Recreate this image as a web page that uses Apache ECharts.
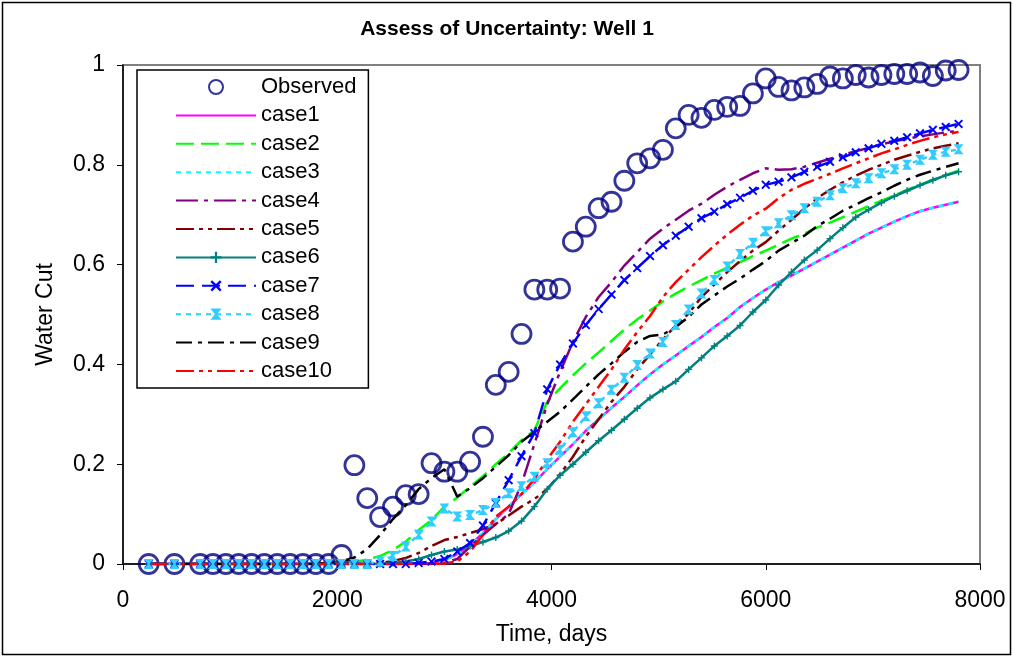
<!DOCTYPE html>
<html>
<head>
<meta charset="utf-8">
<script src="https://cdn.jsdelivr.net/npm/echarts@6/dist/echarts.min.js"></script>
<style>
html,body{margin:0;padding:0;background:#fff;}
#chart{width:1014px;height:658px;}
</style>
</head>
<body>
<div id="chart"></div>
<script>
var days = [240,480,720,840,960,1080,1200,1320,1440,1560,1680,1800,1920,2040,2160,2280,2400,2520,2640,2760,2880,3000,3120,3240,3360,3480,3600,3720,3840,3960,4080,4200,4320,4440,4560,4680,4800,4920,5040,5160,5280,5400,5520,5640,5760,5880,6000,6120,6240,6360,6480,6600,6720,6840,6960,7080,7200,7320,7440,7560,7680,7800];

var observed = [0,0,0,0,0,0,0,0,0,0,0,0,0,0.018,0.198,0.132,0.094,0.115,0.138,0.14,0.202,0.185,0.185,0.205,0.255,0.359,0.385,0.461,0.55,0.55,0.552,0.646,0.676,0.713,0.726,0.768,0.803,0.813,0.83,0.873,0.9,0.894,0.91,0.916,0.918,0.943,0.973,0.956,0.949,0.955,0.962,0.977,0.973,0.98,0.975,0.98,0.982,0.982,0.985,0.978,0.989,0.99];

var case1 = [0,0,0,0,0,0,0,0,0,0,0,0,0,0,0,0,0,0,0,0,0.002,0.008,0.02,0.038,0.062,0.09,0.115,0.14,0.163,0.19,0.215,0.24,0.267,0.29,0.313,0.335,0.358,0.38,0.4,0.418,0.437,0.455,0.475,0.493,0.515,0.533,0.55,0.565,0.578,0.592,0.606,0.62,0.634,0.648,0.662,0.674,0.686,0.697,0.707,0.714,0.72,0.726];

var case2 = [0,0,0,0,0,0,0,0,0,0,0,0,0,0.001,0.004,0.009,0.016,0.028,0.045,0.068,0.088,0.115,0.133,0.155,0.176,0.2,0.222,0.248,0.268,0.325,0.352,0.378,0.402,0.424,0.447,0.47,0.49,0.508,0.526,0.542,0.556,0.569,0.582,0.594,0.605,0.617,0.628,0.64,0.652,0.662,0.674,0.684,0.695,0.706,0.717,0.728,0.738,0.75,0.76,0.77,0.779,0.788];

var case3 = [0,0,0,0,0,0,0,0,0,0,0,0,0,0,0,0,0,0,0,0,0.002,0.008,0.02,0.038,0.062,0.09,0.115,0.14,0.163,0.19,0.215,0.24,0.267,0.29,0.313,0.335,0.358,0.38,0.4,0.418,0.437,0.455,0.475,0.493,0.515,0.533,0.55,0.565,0.578,0.592,0.606,0.62,0.634,0.648,0.662,0.674,0.686,0.697,0.707,0.714,0.72,0.726];

var case4 = [0,0,0,0,0,0,0,0,0,0,0,0,0,0,0,0,0,0,0,0,0,0.002,0.01,0.035,0.058,0.08,0.1,0.16,0.24,0.32,0.385,0.445,0.495,0.535,0.565,0.598,0.625,0.652,0.672,0.69,0.708,0.722,0.74,0.756,0.77,0.783,0.793,0.79,0.791,0.796,0.804,0.812,0.82,0.827,0.834,0.841,0.847,0.852,0.857,0.861,0.865,0.868];

var case5 = [0,0,0,0,0,0,0,0,0,0,0,0,0,0,0,0,0.002,0.006,0.012,0.022,0.036,0.048,0.054,0.062,0.07,0.08,0.097,0.115,0.13,0.15,0.18,0.215,0.255,0.29,0.325,0.355,0.39,0.42,0.45,0.478,0.502,0.535,0.56,0.585,0.607,0.628,0.645,0.668,0.69,0.712,0.733,0.75,0.765,0.778,0.79,0.8,0.81,0.818,0.826,0.833,0.838,0.843];

var case6 = [0,0,0,0,0,0,0,0,0,0,0,0,0,0,0,0,0,0.002,0.005,0.01,0.018,0.025,0.029,0.036,0.044,0.053,0.066,0.086,0.115,0.15,0.178,0.2,0.224,0.247,0.268,0.29,0.312,0.333,0.35,0.366,0.39,0.413,0.437,0.457,0.478,0.505,0.529,0.559,0.585,0.609,0.629,0.652,0.674,0.695,0.71,0.724,0.737,0.748,0.759,0.769,0.779,0.786];

var case7 = [0,0,0,0,0,0,0,0,0,0,0,0,0,0,0,0,0,0,0,0.002,0.005,0.01,0.025,0.042,0.077,0.122,0.168,0.216,0.262,0.35,0.4,0.442,0.479,0.511,0.54,0.569,0.593,0.617,0.639,0.658,0.676,0.693,0.706,0.721,0.734,0.748,0.76,0.766,0.775,0.786,0.796,0.806,0.815,0.825,0.833,0.842,0.848,0.855,0.863,0.87,0.876,0.882];

var case8 = [0,0,0,0,0,0,0,0,0,0,0,0,0,0,0,0,0.005,0.016,0.035,0.059,0.085,0.111,0.095,0.098,0.108,0.122,0.142,0.156,0.175,0.202,0.229,0.264,0.296,0.322,0.349,0.373,0.399,0.422,0.445,0.479,0.51,0.542,0.569,0.596,0.621,0.644,0.667,0.683,0.699,0.713,0.726,0.739,0.753,0.763,0.773,0.783,0.791,0.8,0.81,0.82,0.826,0.831];

var case9 = [0,0,0,0,0,0,0,0,0,0,0,0,0.002,0.005,0.013,0.03,0.058,0.09,0.118,0.15,0.172,0.19,0.135,0.152,0.172,0.195,0.218,0.245,0.265,0.285,0.305,0.33,0.355,0.38,0.402,0.425,0.445,0.457,0.46,0.475,0.495,0.52,0.538,0.556,0.572,0.59,0.607,0.628,0.643,0.658,0.677,0.692,0.708,0.72,0.733,0.745,0.758,0.77,0.78,0.788,0.796,0.803];

var case10 = [0,0,0,0,0,0,0,0,0,0,0,0,0,0,0,0,0,0,0,0,0,0.001,0.005,0.025,0.058,0.095,0.115,0.14,0.17,0.21,0.245,0.285,0.32,0.355,0.39,0.43,0.465,0.497,0.535,0.565,0.59,0.615,0.638,0.66,0.68,0.698,0.712,0.733,0.75,0.762,0.772,0.782,0.793,0.803,0.813,0.823,0.831,0.84,0.848,0.855,0.861,0.866];

var xTicks = [0, 2000, 4000, 6000, 8000];
var yTicks = [0, 0.2, 0.4, 0.6, 0.8, 1];

var FONT = '"Liberation Sans", Arial, sans-serif';

function pairs(arr){ return days.map(function(d,i){ return [d, arr[i]]; }); }

var plusPath = 'path://M4,0 L6,0 L6,4 L10,4 L10,6 L6,6 L6,10 L4,10 L4,6 L0,6 L0,4 L4,4 Z';
var xPath = 'path://M0,1.5 L1.5,0 L5,3.5 L8.5,0 L10,1.5 L6.5,5 L10,8.5 L8.5,10 L5,6.5 L1.5,10 L0,8.5 L3.5,5 Z';
var hourPath = 'path://M0,0 L10,0 L6,5 L10,10 L0,10 L4,5 Z';

function lineSeries(name, arr, color, dash, symbol, symSize){
  return {
    name: name, type: 'line', data: pairs(arr),
    symbol: symbol || 'none', symbolSize: symSize || 0, showAllSymbol: true,
    symbolKeepAspect: true,
    lineStyle: { color: color, width: 2.5, type: dash },
    itemStyle: { color: color, borderWidth: 0 },
    animation: false, z: 3
  };
}

function noMark(name){ return { name: name, itemStyle: { opacity: 0 } }; }

var chart = echarts.init(document.getElementById('chart'), null, {renderer:'canvas'});
chart.setOption({
  backgroundColor: '#ffffff',
  animation: false,
  title: {
    text: 'Assess of Uncertainty: Well 1', left: 'center', top: 14,
    textStyle: { fontFamily: FONT, fontSize: 21, fontWeight: 'bold', color: '#000' }
  },
  graphic: [{
    type: 'rect', shape: { x: 2.5, y: 2.5, width: 1008, height: 652 },
    style: { fill: 'none', stroke: '#000', lineWidth: 1.5 }, z: 0, silent: true
  }],
  grid: { left: 123, right: 34, top: 65, bottom: 94, show: true, borderColor: '#808080', borderWidth: 2, backgroundColor: '#fff' },
  legend: {
    orient: 'vertical', left: 137, top: 70,
    padding: [6, 12, 6, 38],
    backgroundColor: '#fff', borderColor: '#000', borderWidth: 1.5,
    itemWidth: 80, itemHeight: 14, itemGap: 6.4,
    textStyle: { fontFamily: FONT, fontSize: 22, color: '#000' },
    data: ['Observed', noMark('case1'), noMark('case2'), noMark('case3'), noMark('case4'), noMark('case5'),
           'case6', 'case7', 'case8', noMark('case9'), noMark('case10')]
  },
  xAxis: {
    type: 'value', min: xTicks[0], max: xTicks[xTicks.length-1], interval: 2000,
    name: 'Time, days', nameLocation: 'middle', nameGap: 59,
    nameTextStyle: { fontFamily: FONT, fontSize: 23, color: '#000' },
    axisLine: { show: true, onZero: false, lineStyle: { color: '#000', width: 1.5 } },
    axisTick: { show: true, inside: false, length: 6, lineStyle: { color: '#000' } },
    axisLabel: { fontFamily: FONT, fontSize: 23, color: '#000', margin: 25,
      formatter: function(v){ return String(v); } },
    splitLine: { show: false }
  },
  yAxis: {
    type: 'value', min: yTicks[0], max: yTicks[yTicks.length-1], interval: 0.2,
    name: 'Water Cut', nameLocation: 'middle', nameGap: 66,
    nameTextStyle: { fontFamily: FONT, fontSize: 23, color: '#000' },
    axisLine: { show: true, onZero: false, lineStyle: { color: '#000', width: 1.5 } },
    axisTick: { show: true, inside: false, length: 6, lineStyle: { color: '#000' } },
    axisLabel: { fontFamily: FONT, fontSize: 23, color: '#000', margin: 18 },
    splitLine: { show: false }
  },
  series: [
    {
      name: 'Observed', type: 'scatter', data: pairs(observed),
      symbol: 'circle', symbolSize: 19,
      itemStyle: { color: 'rgba(255,255,255,0)', borderColor: '#000080', borderWidth: 2.8 },
      z: 2, animation: false
    },
    lineSeries('case1', case1, '#FF00FF', 'solid'),
    lineSeries('case2', case2, '#00FF00', [18, 7]),
    lineSeries('case3', case3, '#00FFFF', [5, 5]),
    lineSeries('case4', case4, '#800080', [22, 6, 4, 6]),
    lineSeries('case5', case5, '#800000', [18, 5, 4, 5, 4, 5]),
    lineSeries('case6', case6, '#008080', 'solid', plusPath, 7),
    lineSeries('case7', case7, '#0000FF', [18, 8], xPath, 9),
    lineSeries('case8', case8, '#33CCFF', [5, 5], hourPath, 10),
    lineSeries('case9', case9, '#000000', [16, 6, 4, 6]),
    lineSeries('case10', case10, '#FF0000', [18, 5, 4, 5, 4, 5])
  ]
});
</script>
</body>
</html>
